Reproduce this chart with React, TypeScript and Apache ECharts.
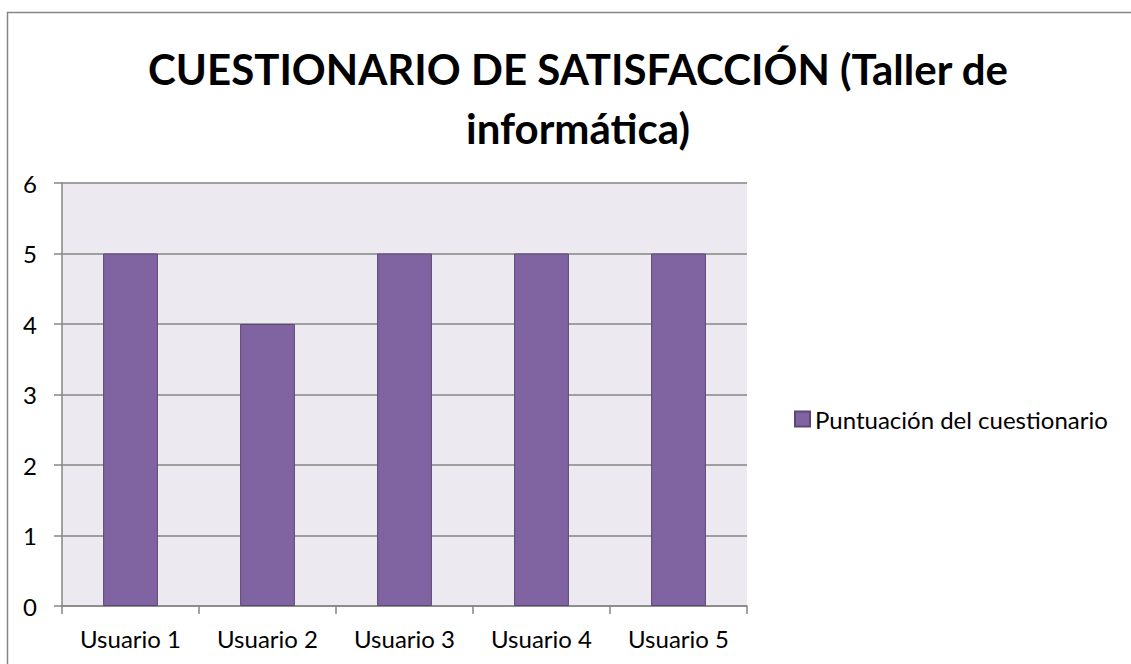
import React, { useEffect, useRef } from "react";
import * as echarts from "echarts";

const categories = ["Usuario 1", "Usuario 2", "Usuario 3", "Usuario 4", "Usuario 5"];
const seriesName = "Puntuación del cuestionario";
const values = [5, 4, 5, 5, 5];
const titleLines = ["CUESTIONARIO DE SATISFACCIÓN (Taller de", "informática)"];

export default function App() {
  const ref = useRef<HTMLDivElement>(null);
  useEffect(() => {
    const chart = echarts.init(ref.current!, null, { renderer: "svg" });
    const font = "Lato, 'Open Sans', sans-serif";
    chart.setOption({
      animation: false,
      backgroundColor: "#ffffff",
      title: {
        text: titleLines.join("\n"),
        left: 573,
        textAlign: "center",
        top: 34,
        textStyle: { fontFamily: font, fontWeight: "bold", fontSize: 42, color: "#000", lineHeight: 59 },
      },
      graphic: [
        {
          type: "rect",
          shape: { x: 7.5, y: 12.5, width: 1200, height: 800 },
          style: { fill: "none", stroke: "#868686", lineWidth: 1.5 },
          silent: true,
        },
      ],
      legend: {
        left: 789,
        top: 402,
        itemWidth: 15,
        itemHeight: 15,
        icon: "rect",
        textStyle: { fontFamily: font, fontSize: 24, color: "#000" },
        data: [seriesName],
      },
      grid: {
        left: 62,
        right: 384,
        top: 183,
        bottom: 58,
        show: true,
        backgroundColor: "#ECEAF0",
        borderWidth: 0,
      },
      xAxis: {
        type: "category",
        data: categories,
        boundaryGap: true,
        axisLine: { show: true, lineStyle: { color: "#868686", width: 1.5 } },
        axisTick: { show: true, length: 8, alignWithLabel: false, lineStyle: { color: "#868686", width: 1.5 } },
        axisLabel: { fontFamily: font, fontSize: 24, color: "#000", margin: 20 },
      },
      yAxis: {
        type: "value",
        min: 0,
        max: 6,
        interval: 1,
        axisLine: { show: true, lineStyle: { color: "#868686", width: 1.5 } },
        axisTick: { show: true, length: 8, lineStyle: { color: "#868686", width: 1.5 } },
        splitLine: { show: true, lineStyle: { color: "#868686", width: 1.5 } },
        axisLabel: { fontFamily: font, fontSize: 24, color: "#000", margin: 25 },
      },
      series: [
        {
          name: seriesName,
          type: "bar",
          data: values,
          barWidth: "40%",
          itemStyle: { color: "#8064A2", borderColor: "#5C4776", borderWidth: 1 },
        },
      ],
    });
    return () => chart.dispose();
  }, []);
  return (
    <div
      ref={ref}
      style={{ position: "absolute", left: 0, top: 0, width: 1131, height: 664 }}
    />
  );
}
